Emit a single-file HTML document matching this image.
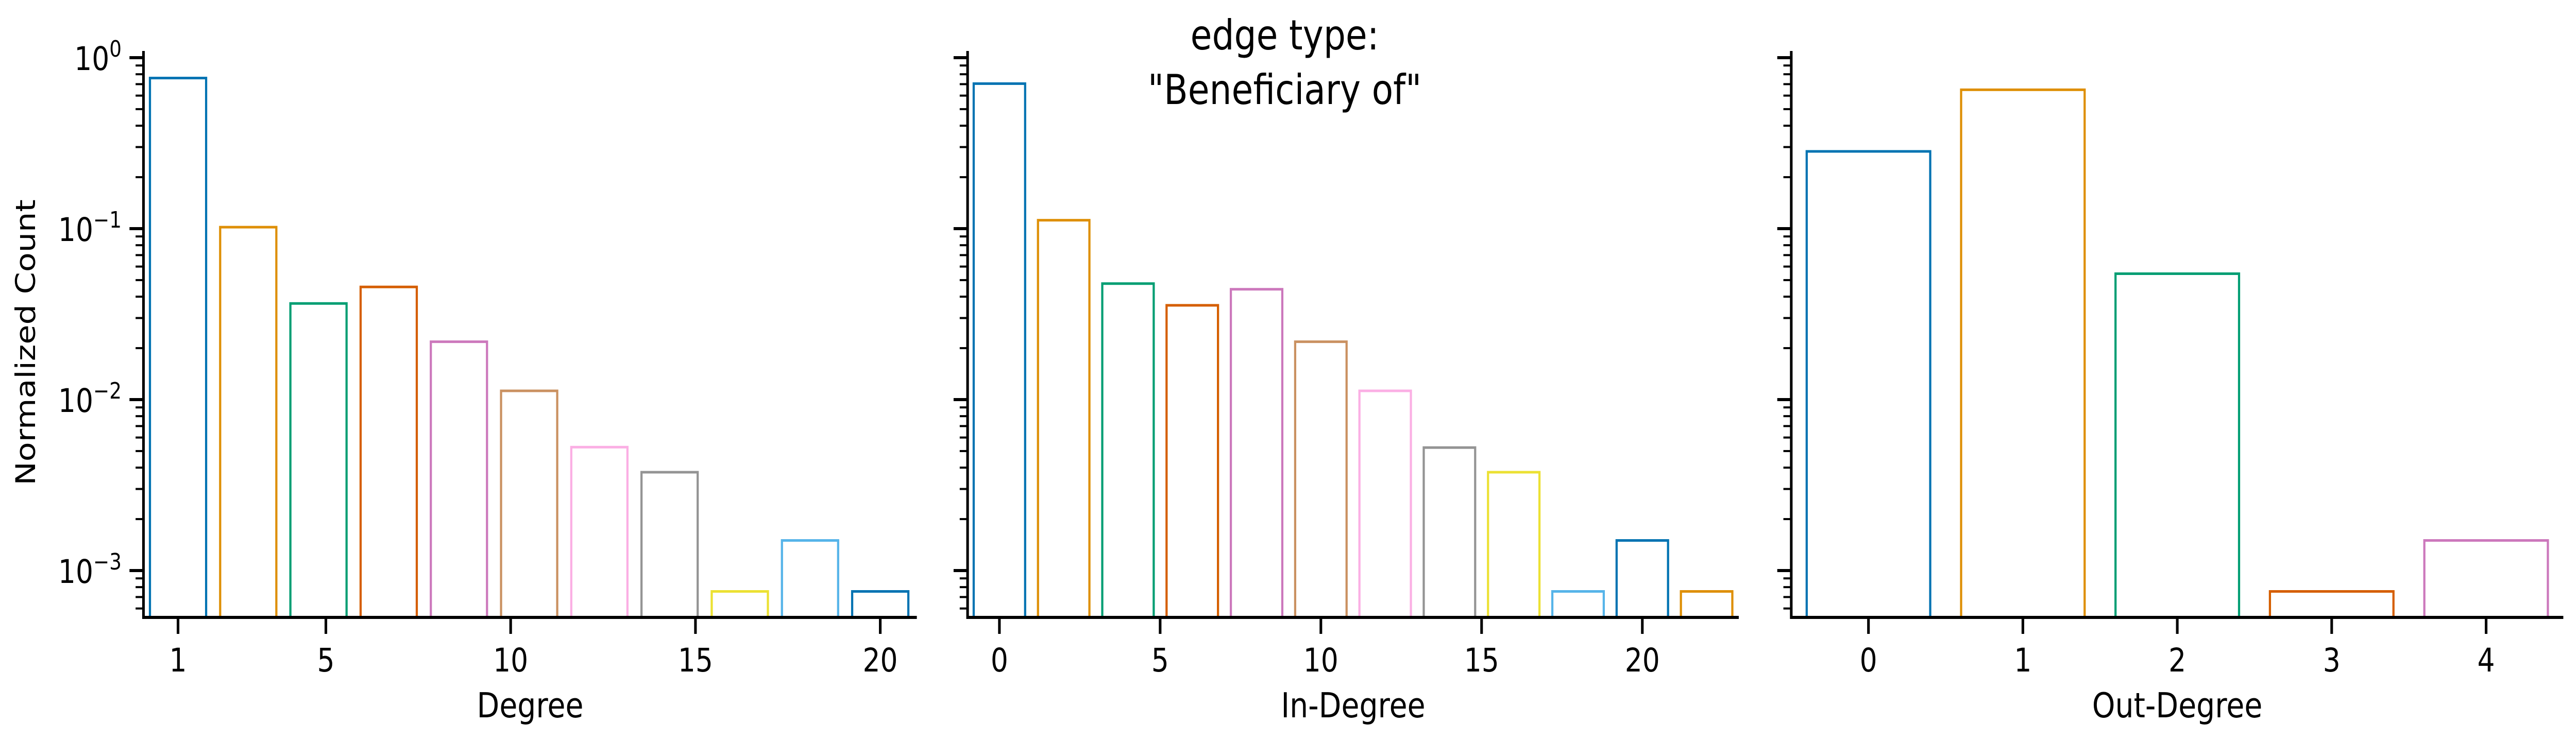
<!DOCTYPE html>
<html><head><meta charset="utf-8">
<style>
html,body{margin:0;padding:0;background:#fff;overflow:hidden;width:100%;height:100%;}
svg{display:block;font-family:"DejaVu Sans","Liberation Sans",sans-serif;}
</style></head>
<body>
<svg id="fig" width="100vw" height="100vh" viewBox="0 0 5889 1439" preserveAspectRatio="none" xmlns="http://www.w3.org/2000/svg">
<rect width="5889" height="1439" fill="#fff"/>
<text x="2937" y="96" font-size="80" text-anchor="middle">edge type:</text>
<text x="2937" y="202" font-size="80" text-anchor="middle">"Beneficiary of"</text>
</svg>
<script>
const palette = ["#0173b2","#de8f05","#029e73","#d55e00","#cc78bc","#ca9161","#fbafe4","#949494","#ece133","#56b4e9"];
const degreeX = [1,2.9,4.8,6.7,8.6,10.5,12.4,14.3,16.2,18.1,20];
const degreeVals = [0.76,0.102,0.0365,0.0456,0.0218,0.01125,0.00527,0.00376,0.000755,0.0015,0.000755];
const degreeTicks = [1,5,10,15,20];
const inX = [0,2,4,6,8,10,12,14,16,18,20,22];
const inVals = [0.705,0.112,0.0477,0.0356,0.0442,0.0218,0.01125,0.00524,0.00376,0.000755,0.0015,0.000755];
const inTicks = [0,5,10,15,20];
const outX = [0,1,2,3,4];
const outVals = [0.283,0.649,0.0545,0.000755,0.0015];
const outTicks = [0,1,2,3,4];
const yDecades = [0,-1,-2,-3];

const NS = "http://www.w3.org/2000/svg";
const svg = document.getElementById("fig");
const Y0 = 112, DEC = 332, BOTTOM = 1199, TOP = 99;
function yScale(v){ return Y0 - Math.log10(v) * DEC; }
function mk(tag, attrs, parent){ const e = document.createElementNS(NS, tag); for (const k in attrs) e.setAttribute(k, attrs[k]); (parent||svg).appendChild(e); return e; }

function panel(name, px0, px1, xmin, xmax, xs, vals, width, ticks, label, showY){
  const g = mk("g", {});
  
  
  const xs_ = v => px0 + (v - xmin) / (xmax - xmin) * (px1 - px0);
  xs.forEach((x, i) => {
    const l = xs_(x - width/2), r = xs_(x + width/2), t = yScale(vals[i]);
    const b = mk("rect", {x:l, y:t, width:r-l, height:BOTTOM-t, fill:"none", stroke:palette[i % palette.length], "stroke-width":5}, g);
    
    
  });
  const sp = mk("path", {d:`M${px0} ${TOP} V${BOTTOM} H${px1}`, fill:"none", stroke:"#000", "stroke-width":6}, g);
  
  
  ticks.forEach(t => {
    const x = xs_(t);
    mk("line", {x1:x, x2:x, y1:BOTTOM, y2:BOTTOM+32, stroke:"#000", "stroke-width":6}, g);
    const tx = mk("text", {x:x, y:1304, "font-size":63, "text-anchor":"middle"}, g);
    tx.textContent = t;
    
    
  });
  const xl = mk("text", {x:(px0+px1)/2, y:1393, "font-size":67, "text-anchor":"middle"}, g);
  xl.textContent = label;
  
  
  yDecades.forEach(d => {
    const y = yScale(Math.pow(10, d));
    mk("line", {x1:px0-32, x2:px0, y1:y, y2:y, stroke:"#000", "stroke-width":6}, g);
    if (showY) {
      const t = mk("text", {x:px0-50, y:y+24, "font-size":63, "text-anchor":"end"}, g);
      
      
      const a = document.createElementNS(NS, "tspan"); a.textContent = "10"; t.appendChild(a);
      const s = document.createElementNS(NS, "tspan"); s.setAttribute("dy", "-26"); s.setAttribute("font-size", "44");
      s.textContent = d === 0 ? "0" : "\u2212" + (-d); t.appendChild(s);
    }
    for (let m = 2; m <= 9; m++) {
      const yy = yScale(m * Math.pow(10, d - 1));
      if (yy <= BOTTOM && yy >= TOP) mk("line", {x1:px0-18, x2:px0, y1:yy, y2:yy, stroke:"#000", "stroke-width":4}, g);
    }
  });
}
panel("degree", 328, 2096, 0.065, 20.99, degreeX, degreeVals, 1.52, degreeTicks, "Degree", true);
panel("in-degree", 2212, 3975, -0.99, 23.0, inX, inVals, 1.6, inTicks, "In-Degree", false);
panel("out-degree", 4095, 5860, -0.5, 4.5, outX, outVals, 0.8, outTicks, "Out-Degree", false);

const yl = mk("text", {x:0, y:0, "font-size":62, "text-anchor":"middle", transform:"translate(80,665) rotate(-90)"});
yl.textContent = "Normalized Count";


</script>
</body></html>
